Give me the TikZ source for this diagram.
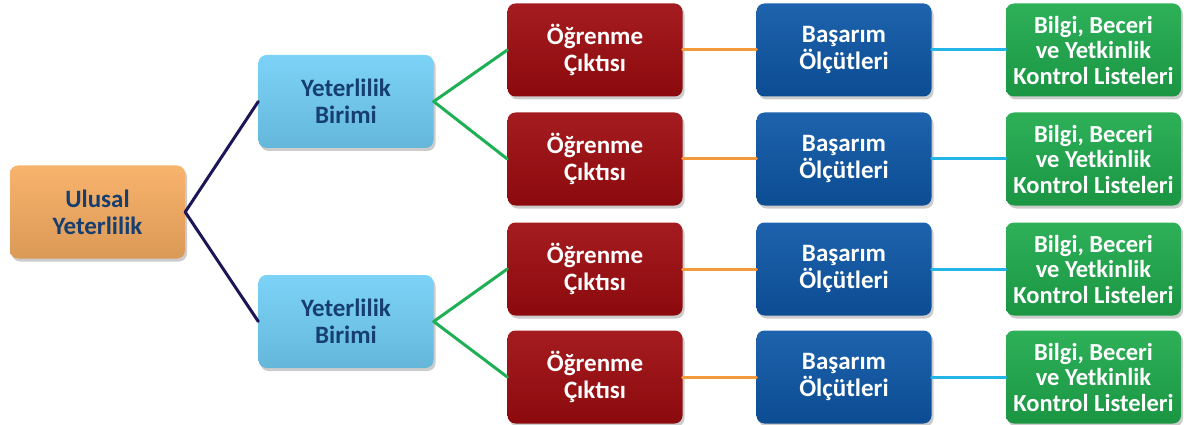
\documentclass[tikz,border=0pt]{standalone}
\usepackage{fontspec}
\setmainfont{Carlito}
\usetikzlibrary{shadows}
\definecolor{lacivert}{HTML}{163F6F}
\definecolor{cizgi}{HTML}{1C1656}
\definecolor{turuncu}{HTML}{F59A3C}
\definecolor{yesilcizgi}{HTML}{1FAF55}
\definecolor{acikmavi}{HTML}{22B5E6}
\definecolor{ulusalrenk}{HTML}{F8AE62}
\definecolor{birimrenk}{HTML}{72D0F7}
\definecolor{ciktirenk}{HTML}{9E0B0F}
\definecolor{olcutrenk}{HTML}{0D57A7}
\definecolor{listerenk}{HTML}{1EAA4C}
\tikzset{
  kutu/.style={rounded corners=8pt, minimum width=175pt, minimum height=93pt, inner sep=2pt,
    align=center, font=\bfseries\fontsize{25}{27}\selectfont,
    top color=#1!93!white, middle color=#1, bottom color=#1!88!black,
    drop shadow={shadow xshift=2pt, shadow yshift=-3pt, opacity=0.4}},
  ulusalkutu/.style={kutu=ulusalrenk, text=lacivert},
  birimkutu/.style={kutu=birimrenk, text=lacivert},
  ciktikutu/.style={kutu=ciktirenk, text=white},
  olcutkutu/.style={kutu=olcutrenk, text=white},
  listekutu/.style={kutu=listerenk, text=white, font=\bfseries\fontsize{24.5}{25.5}\selectfont},
  bag/.style={line width=3pt}
}
\begin{document}
\begin{tikzpicture}[x=1pt,y=-1pt,line join=round,line cap=round]
\useasboundingbox (0,0) rectangle (1189,425);
%Ana düğüm ve yeterlilik birimleri
\node[ulusalkutu] (ulusal) at (97.5,212) {Ulusal\\Yeterlilik};
\node[birimkutu] (birim1) at (346,101.5) {Yeterlilik\\Birimi};
\node[birimkutu] (birim2) at (346,321.5) {Yeterlilik\\Birimi};
\draw[bag,cizgi] (birim1.west)--(ulusal.east)--(birim2.west);
%Satırlar
\foreach \i/\y in {1/50,2/159,3/269,4/377}{
  \node[ciktikutu] (cikti\i) at (595,\y) {Öğrenme\\Çıktısı};
  \node[olcutkutu] (olcut\i) at (844,\y) {Başarım\\Ölçütleri};
  \node[listekutu] (liste\i) at (1093.5,\y) {Bilgi, Beceri\\ve Yetkinlik\\Kontrol Listeleri};
  \draw[bag,turuncu] (cikti\i)--(olcut\i);
  \draw[bag,acikmavi] (olcut\i)--(liste\i);
}
\draw[bag,yesilcizgi] (cikti1.west)--(birim1.east)--(cikti2.west);
\draw[bag,yesilcizgi] (cikti3.west)--(birim2.east)--(cikti4.west);
\end{tikzpicture}
\end{document}
